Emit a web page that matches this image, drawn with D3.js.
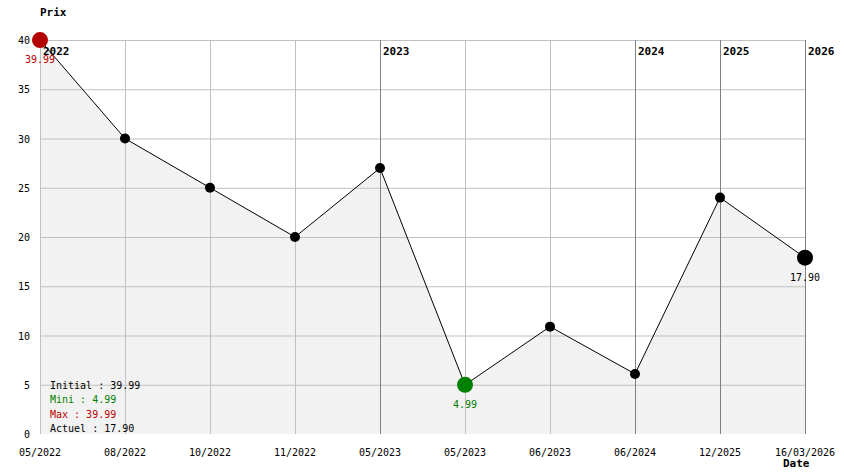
<!DOCTYPE html>
<html><head><meta charset="utf-8">
<script src="https://cdn.jsdelivr.net/npm/d3@7"></script>
<style>body{margin:0;background:#fff}svg text{font-family:"DejaVu Sans Mono",monospace}</style>
</head><body><svg id="c" width="844" height="474"></svg>
<script>
const dates = ["05/2022","08/2022","10/2022","11/2022","05/2023","05/2023","06/2023","06/2024","12/2025","16/03/2026"];
const prices = [39.99, 30, 25, 20, 27, 4.99, 10.9, 6.1, 24, 17.90];
const yearIdx = [0, 4, 7, 8, 9];
const yearLabels = ["2022","2023","2024","2025","2026"];
const yTicks = [0,5,10,15,20,25,30,35,40];
const legendLabels = ["Initial : 39.99","Mini : 4.99","Max : 39.99","Actuel : 17.90"];
const legendColors = ["#000","#008000","#c00000","#000"];

const svg = d3.select("#c");
const L=40,R=805,T=40,B=434;
const x = d3.scalePoint().domain(d3.range(dates.length)).range([L,R]);
const y = d3.scaleLinear().domain([0,40]).range([B,T]);

// area fill
svg.append("path").datum(prices)
  .attr("d", d3.area().x((d,i)=>x(i)).y0(B).y1(d=>y(d)))
  .attr("fill","#f2f2f2");

// grid
svg.append("g").selectAll("line").data(yTicks.filter(d=>d>0)).join("line")
  .attr("x1",L).attr("x2",R).attr("y1",d=>y(d)+0.5).attr("y2",d=>y(d)+0.5)
  .attr("stroke","#c0c0c0");
svg.append("g").selectAll("line").data(d3.range(dates.length)).join("line")
  .attr("x1",i=>x(i)+0.5).attr("x2",i=>x(i)+0.5).attr("y1",T).attr("y2",B)
  .attr("stroke",i=>yearIdx.includes(i)&&i>0?"#808080":"#c0c0c0");

// y labels
svg.append("g").selectAll("text").data(yTicks).join("text")
  .attr("x",30).attr("y",d=>y(d)+4).attr("text-anchor","end")
  .attr("font-size",10).text(d=>d);
// x labels
svg.append("g").selectAll("text").data(dates).join("text")
  .attr("x",(d,i)=>x(i)).attr("y",456).attr("text-anchor","middle")
  .attr("font-size",10).text(d=>d);

svg.append("text").attr("x",40).attr("y",16).attr("font-size",11).attr("font-weight","bold").text("Prix");
svg.append("text").attr("x",783).attr("y",467).attr("font-size",11).attr("font-weight","bold").text("Date");

// year labels
svg.append("g").selectAll("text").data(yearIdx).join("text")
  .attr("x",i=>x(i)+3).attr("y",55).attr("font-size",11).attr("font-weight","bold")
  .text((d,k)=>yearLabels[k]);

// line
svg.append("path").datum(prices)
  .attr("d", d3.line().x((d,i)=>x(i)).y(d=>y(d)))
  .attr("fill","none").attr("stroke","#000").attr("stroke-width",1);

const last = prices.length-1;
const minI = prices.indexOf(d3.min(prices));
const maxI = prices.indexOf(d3.max(prices));
svg.append("g").selectAll("circle").data(prices).join("circle")
  .attr("cx",(d,i)=>x(i)).attr("cy",d=>y(d))
  .attr("r",(d,i)=>(i===minI||i===maxI||i===last)?8:5)
  .attr("fill",(d,i)=>i===maxI?"#b30000":i===minI?"#008000":"#000");

const hl = [[maxI,"#c00000"],[minI,"#008000"],[last,"#000"]];
svg.append("g").selectAll("text").data(hl).join("text")
  .attr("x",d=>x(d[0])).attr("y",d=>y(prices[d[0]])+23).attr("text-anchor","middle")
  .attr("font-size",10).attr("fill",d=>d[1]).text(d=>prices[d[0]].toFixed(2));

svg.append("g").selectAll("text").data(legendLabels).join("text")
  .attr("x",50).attr("y",(d,i)=>389+i*14.3).attr("font-size",10)
  .attr("fill",(d,i)=>legendColors[i]).text(d=>d);
</script></body></html>
